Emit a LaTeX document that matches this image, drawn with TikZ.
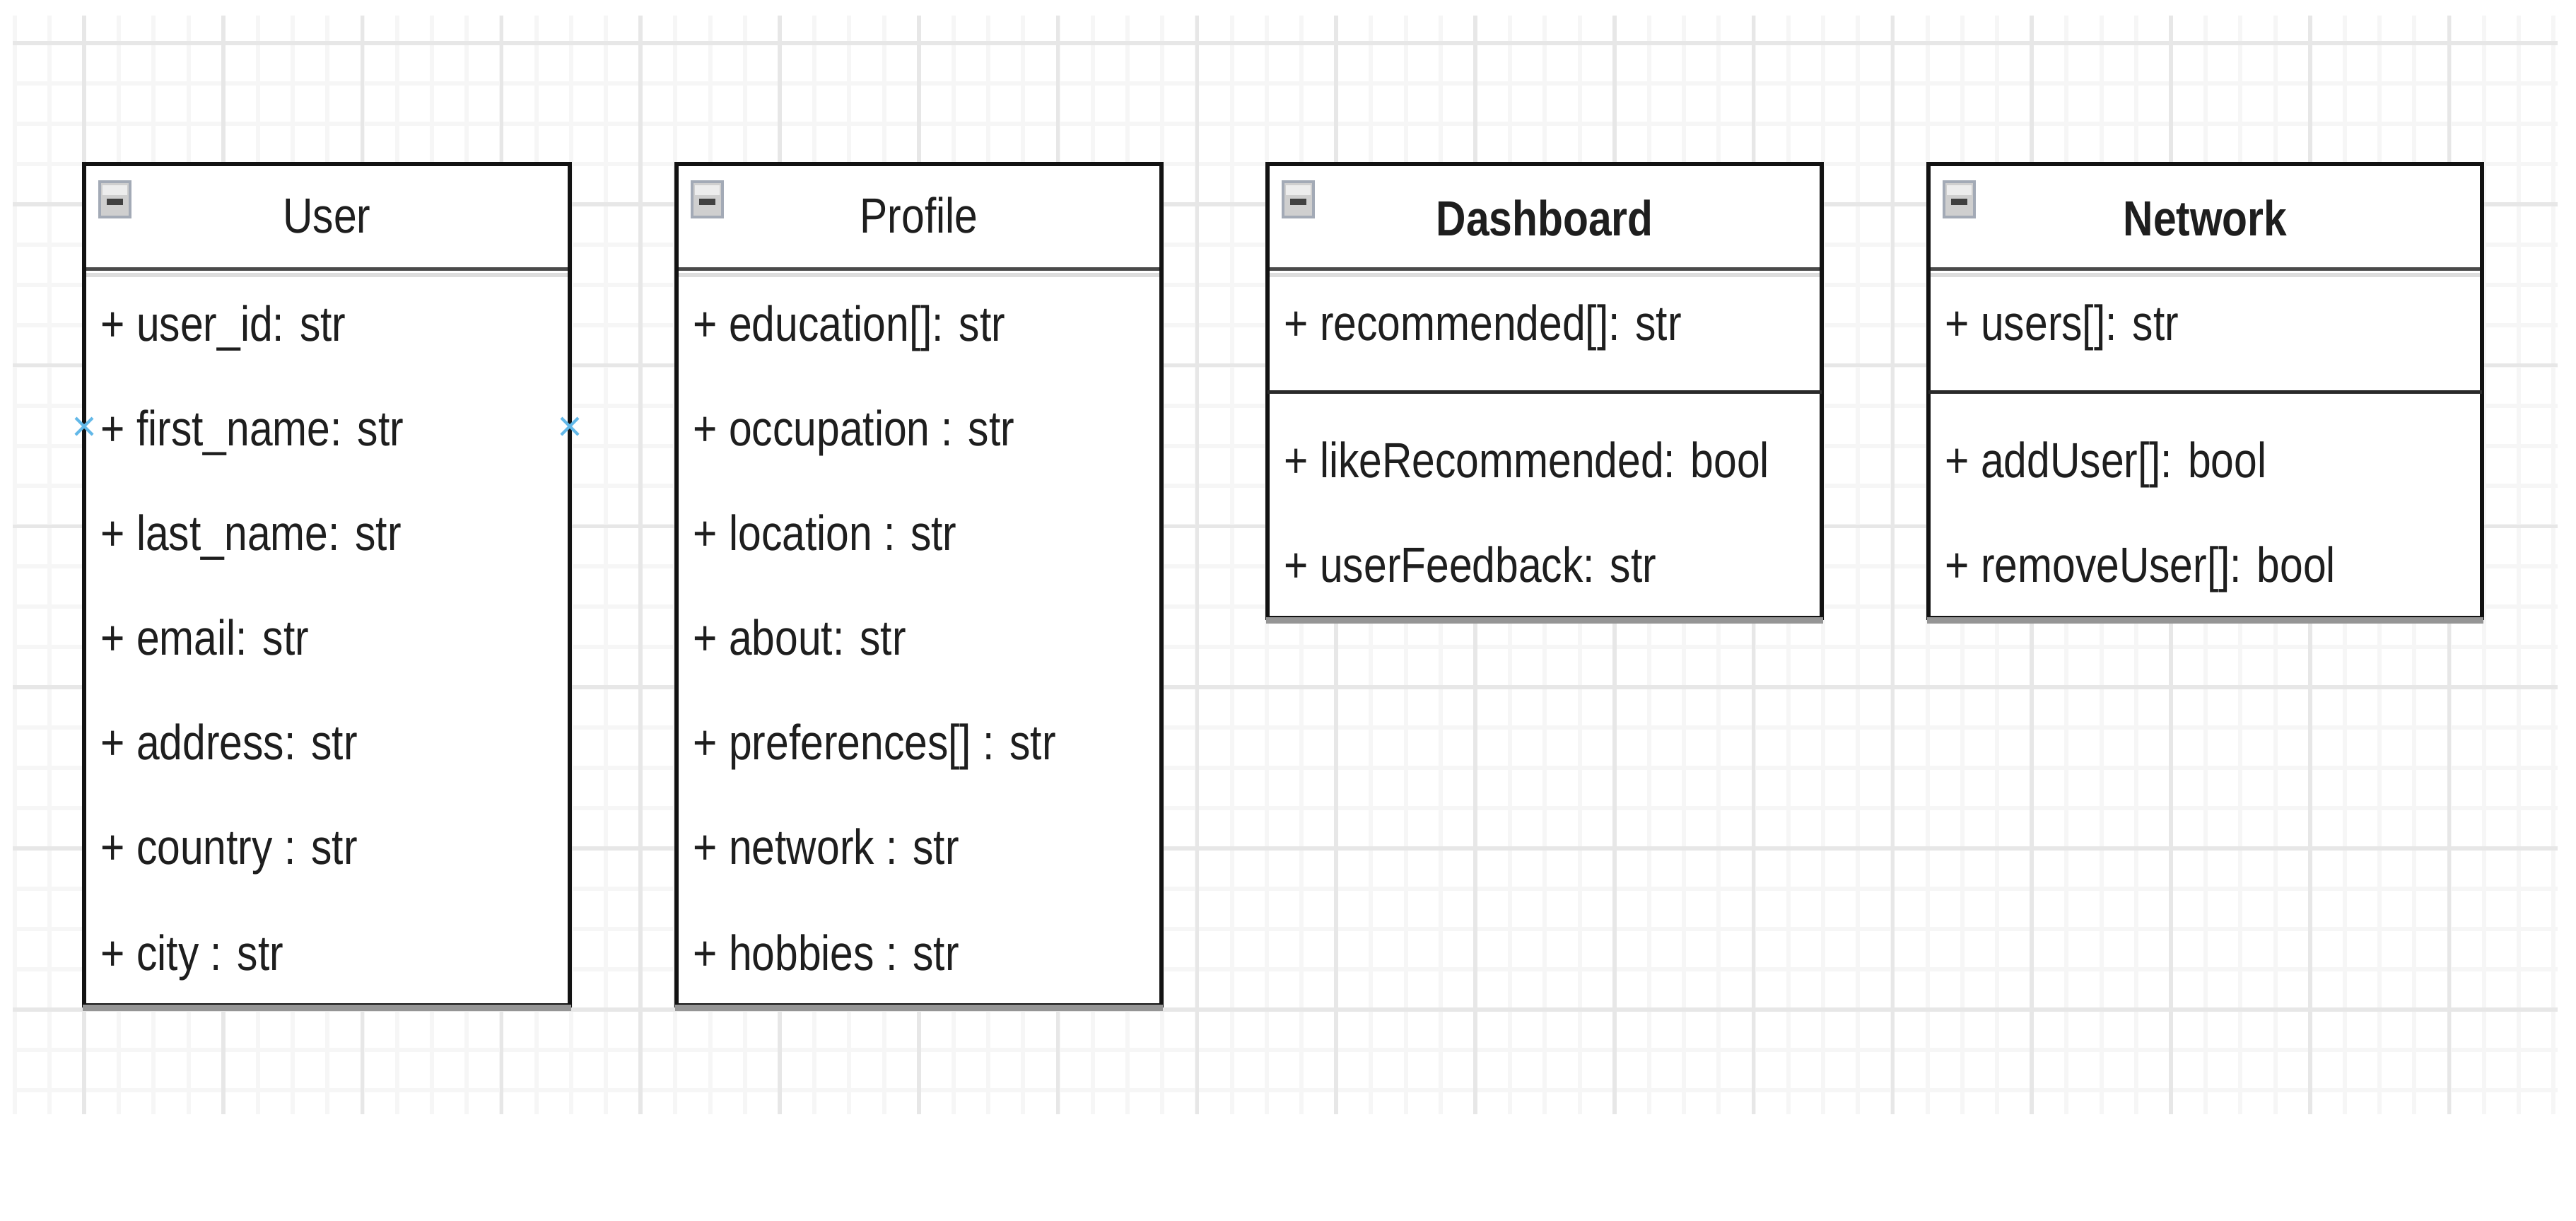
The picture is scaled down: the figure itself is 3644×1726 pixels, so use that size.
\documentclass[tikz,border=0pt]{standalone}
\usepackage{fontspec}
\setmainfont{Liberation Sans}[FakeStretch=0.84]
\definecolor{gridminor}{HTML}{F6F6F6}
\definecolor{gridmajor}{HTML}{E7E7E7}
\definecolor{txt}{HTML}{1E1E1E}
\definecolor{edge}{HTML}{121212}
\definecolor{hdr}{HTML}{4A4A4A}
\definecolor{hdrsh}{HTML}{DDDDDD}
\definecolor{shade}{HTML}{959595}
\definecolor{iconedge}{HTML}{A3AAB6}
\definecolor{iconfill}{HTML}{CFCFCF}
\definecolor{icontop}{HTML}{EDEDED}
\definecolor{iconbar}{HTML}{404040}
\definecolor{marker}{HTML}{62B8E8}
\tikzset{
  gridminorline/.style={draw=gridminor, line width=0.6mm},
  gridmajorline/.style={draw=gridmajor, line width=0.55mm},
  boxedge/.style={draw=edge, line width=0.6mm},
  boxshadow/.style={draw=shade, line width=0.9mm},
  hdrline/.style={draw=hdr, line width=0.5mm},
  hdrshade/.style={draw=hdrsh, line width=0.6mm},
  divline/.style={draw=edge!90, line width=0.5mm},
  iconbox/.style={draw=iconedge, fill=iconfill, line width=0.45mm},
  xmarker/.style={draw=marker, line width=0.4mm},
  member/.style={anchor=base west, inner sep=0pt, text=txt, font=\fontsize{19.9pt}{24pt}\selectfont},
  ctitle/.style={anchor=base, inner sep=0pt, text=txt, font=\fontsize{19.9pt}{24pt}\selectfont},
  btitle/.style={anchor=base, inner sep=0pt, text=txt, font=\fontsize{19.9pt}{24pt}\selectfont\bfseries},
}
\newcommand\drawclassbox[3]{%
  \fill[white] (#1,232) rectangle (#2,#3);
  \draw[hdrshade] (#1,389) -- (#2,389);
  \draw[hdrline] (#1,380) -- (#2,380);
  \draw[boxedge] (#1,232) rectangle (#2,#3);
  \draw[boxshadow] (#1-2,#3+3) -- (#2+2,#3+3);
  \draw[iconbox] (#1+22,257) rectangle (#1+65,307);
  \fill[icontop] (#1+26,262) rectangle (#1+61,276);
  \fill[iconbar] (#1+32,281) rectangle (#1+55,290);
}
\begin{document}
\begin{tikzpicture}[x=0.1mm,y=-0.1mm]
\useasboundingbox[fill=white] (0,0) rectangle (3644,1726);
% grid
\foreach \k in {0,...,73}{%
  \pgfmathsetmacro\xx{20.6+49.2*\k}%
  \draw[gridminorline] (\xx,22) -- (\xx,1576);}
\foreach \k in {0,...,26}{%
  \pgfmathsetmacro\yy{61+56.95*\k}%
  \draw[gridminorline] (18,\yy) -- (3618,\yy);}
\foreach \k in {0,...,18}{%
  \pgfmathsetmacro\xx{119+196.8*\k}%
  \draw[gridmajorline] (\xx,22) -- (\xx,1576);}
\foreach \k in {0,...,6}{%
  \pgfmathsetmacro\yy{61+227.8*\k}%
  \draw[gridmajorline] (18,\yy) -- (3618,\yy);}
% boxes
\drawclassbox{119}{806}{1422}
\drawclassbox{957}{1643}{1422}
\drawclassbox{1793}{2577}{874}
\drawclassbox{2728}{3511}{874}
\draw[divline] (1793,554) -- (2577,554);
\draw[divline] (2728,554) -- (3511,554);
% titles
\node[ctitle] (tUser) at (462.5,329) {User};
\node[ctitle] (tProfile) at (1300,329) {Profile};
\node[btitle] (tDash) at (2185,333) {Dashboard};
\node[btitle] (tNet) at (3119.5,333) {Network};
% User members
\node[member] (u1) at (142,482) {+ user\_id: str};
\node[member] (u2) at (142,630) {+ first\_name: str};
\node[member] (u3) at (142,778) {+ last\_name: str};
\node[member] (u4) at (142,926) {+ email: str};
\node[member] (u5) at (142,1074) {+ address: str};
\node[member] (u6) at (142,1222) {+ country : str};
\node[member] (u7) at (142,1372) {+ city : str};
% Profile members
\node[member] (p1) at (980,482) {+ education[]: str};
\node[member] (p2) at (980,630) {+ occupation : str};
\node[member] (p3) at (980,778) {+ location : str};
\node[member] (p4) at (980,926) {+ about: str};
\node[member] (p5) at (980,1074) {+ preferences[] : str};
\node[member] (p6) at (980,1222) {+ network : str};
\node[member] (p7) at (980,1372) {+ hobbies : str};
% Dashboard members
\node[member] (d1) at (1816,481) {+ recommended[]: str};
\node[member] (d2) at (1816,675) {+ likeRecommended: bool};
\node[member] (d3) at (1816,823) {+ userFeedback: str};
% Network members
\node[member] (n1) at (2751,481) {+ users[]: str};
\node[member] (n2) at (2751,675) {+ addUser[]: bool};
\node[member] (n3) at (2751,823) {+ removeUser[]: bool};
% connection markers
\coordinate (mL) at (119,603);
\coordinate (mR) at (806,603);
\draw[xmarker] ([shift={(-12,-12)}]mL) -- ([shift={(12,12)}]mL);
\draw[xmarker] ([shift={(-12,12)}]mL) -- ([shift={(12,-12)}]mL);
\draw[xmarker] ([shift={(-12,-12)}]mR) -- ([shift={(12,12)}]mR);
\draw[xmarker] ([shift={(-12,12)}]mR) -- ([shift={(12,-12)}]mR);
\end{tikzpicture}
\end{document}
